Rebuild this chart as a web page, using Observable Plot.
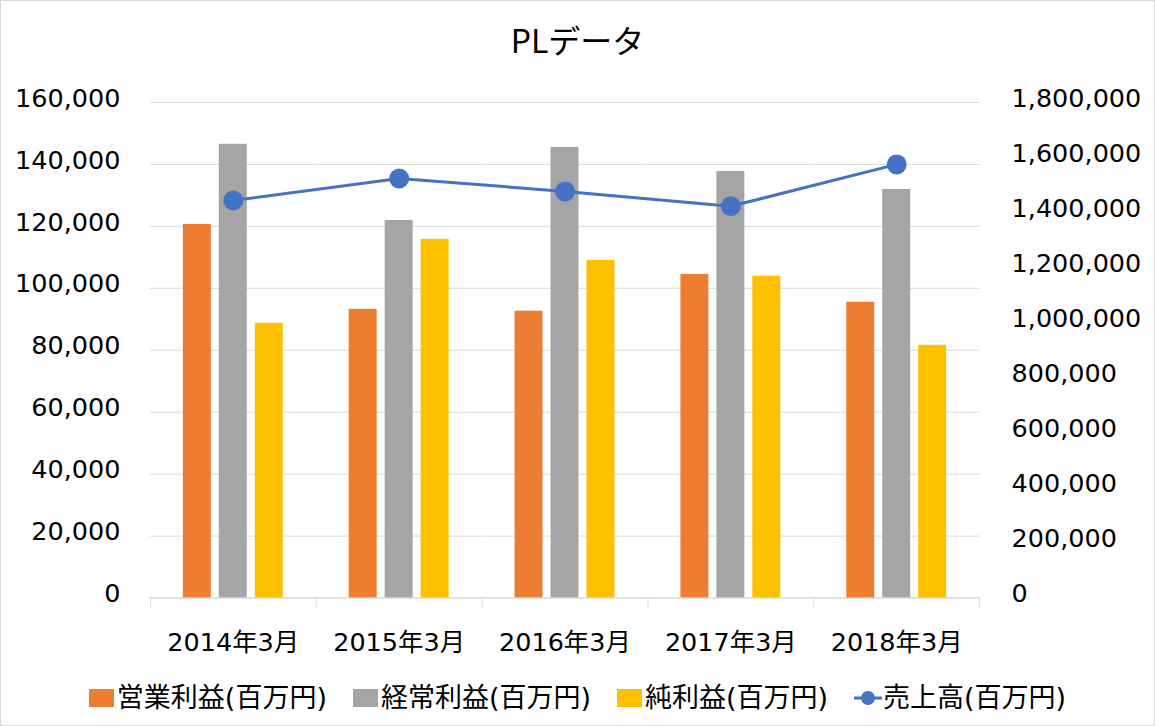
<!DOCTYPE html>
<html>
<head>
<meta charset="utf-8">
<script src="https://cdn.jsdelivr.net/npm/d3@7"></script>
<script src="https://cdn.jsdelivr.net/npm/@observablehq/plot@0.6"></script>
<style>
  body { margin: 0; background: #fff; }
  #chart { position: relative; width: 1155px; height: 726px; box-sizing: border-box; border: 1px solid #d9d9d9; background: #fff; overflow: hidden;
           font-family: "DejaVu Sans", "Noto Sans CJK JP", sans-serif; color: #000; }
  #title { position: absolute; left: -1px; width: 1155px; top: 16px; text-align: center; font-family: "Noto Sans CJK JP", sans-serif; font-size: 32px; line-height: 44px; }
  .layer { position: absolute; left: -1px; top: 59px; }
  #legend { position: absolute; left: -1px; width: 1155px; top: 678px; height: 38px; display: flex; justify-content: center; align-items: center; gap: 26px; font-size: 27px; line-height: 38px; }
  .item { display: flex; align-items: center; white-space: nowrap; }
  .sw { display: inline-block; width: 25px; height: 18px; margin-right: 3px; }
</style>
</head>
<body>
<div id="chart">
  <div id="title"></div>
  <div id="layer1" class="layer"></div>
  <div id="layer2" class="layer"></div>
  <div id="legend"></div>
</div>
<script>
// ---- data ----
const titleText = "PLデータ";
const years = ["2014年3月", "2015年3月", "2016年3月", "2017年3月", "2018年3月"];
const seriesNames = ["営業利益(百万円)", "経常利益(百万円)", "純利益(百万円)"];
const lineName = "売上高(百万円)";
const operatingProfit = [120600, 93200, 92600, 104500, 95500];
const ordinaryProfit  = [146500, 121900, 145500, 137700, 131900];
const netProfit       = [88700, 115800, 109000, 103900, 81600];
const sales           = [1444000, 1524000, 1477000, 1423000, 1575000];
const leftTicks  = [0, 20000, 40000, 60000, 80000, 100000, 120000, 140000, 160000];
const rightTicks = [0, 200000, 400000, 600000, 800000, 1000000, 1200000, 1400000, 1600000, 1800000];
const barColors = ["#ED7D31", "#A5A5A5", "#FFC000"];
const lineColor = "#4472C4";

// ---- tables built from the arrays ----
const seriesValues = [operatingProfit, ordinaryProfit, netProfit];
const barData = years.flatMap((yr, i) => seriesNames.map((s, j) => ({year: yr, series: s, value: seriesValues[j][i]})));
const salesData = years.map((yr, i) => ({year: yr, value: sales[i]}));
// point domain: category boundaries interleaved with category centres
const edgeKeys = d3.range(years.length + 1).map(i => "edge" + i);
const xDomain = [];
years.forEach((yr, i) => { xDomain.push(edgeKeys[i], yr); });
xDomain.push(edgeKeys[years.length]);

const fontStack = '"DejaVu Sans", "Noto Sans CJK JP", sans-serif';
const W = 1155, H = 605;
const margins = {marginTop: 42, marginRight: 174, marginBottom: 67, marginLeft: 148};
const fmt = d3.format(",");

document.getElementById("title").textContent = titleText;

const p1 = Plot.plot({
  width: W, height: H, ...margins,
  style: {fontFamily: fontStack, color: "#000", background: "transparent", overflow: "visible"},
  fx: {domain: years, paddingInner: 0, paddingOuter: 0, label: null},
  x: {domain: seriesNames, paddingInner: 0.216, paddingOuter: 0.86, axis: null},
  y: {domain: [0, 160000], axis: null},
  color: {domain: seriesNames, range: barColors},
  marks: [
    Plot.gridY(leftTicks, {stroke: "#d9d9d9", strokeOpacity: 1, strokeWidth: 1}),
    Plot.barY(barData, {fx: "year", x: "series", y: "value", fill: "series"}),
    Plot.ruleY([0], {stroke: "#d9d9d9", strokeWidth: 1}),
    Plot.axisY({ticks: leftTicks, tickFormat: fmt, tickSize: 0, tickPadding: 30, fontSize: 25.5, dy: -4, label: null, fill: "#000"}),
    Plot.axisFx({anchor: "bottom", tickSize: 0, tickPadding: 35, fontSize: 25.5, label: null, fill: "#000"})
  ]
});
document.getElementById("layer1").appendChild(p1);

const p2 = Plot.plot({
  width: W, height: H, ...margins,
  style: {fontFamily: fontStack, color: "#000", background: "transparent", overflow: "visible"},
  x: {type: "point", domain: xDomain, padding: 0, axis: null},
  y: {domain: [0, 1800000], axis: null},
  marks: [
    Plot.axisX({anchor: "bottom", ticks: edgeKeys, tickSize: 10, tickFormat: () => "", stroke: "#d9d9d9", label: null}),
    Plot.line(salesData, {x: "year", y: "value", stroke: lineColor, strokeWidth: 3}),
    Plot.dot(salesData, {x: "year", y: "value", r: 10, fill: lineColor}),
    Plot.axisY({anchor: "right", ticks: rightTicks, tickFormat: fmt, tickSize: 0, tickPadding: 31, fontSize: 25.5, dy: -4, label: null, fill: "#000"})
  ]
});
document.getElementById("layer2").appendChild(p2);

// ---- legend ----
const legend = document.getElementById("legend");
seriesNames.forEach((s, j) => {
  const item = document.createElement("span");
  item.className = "item";
  const sw = document.createElement("span");
  sw.className = "sw";
  sw.style.background = barColors[j];
  item.appendChild(sw);
  item.appendChild(document.createTextNode(s));
  legend.appendChild(item);
});
{
  const item = document.createElement("span");
  item.className = "item";
  const ns = "http://www.w3.org/2000/svg";
  const svg = document.createElementNS(ns, "svg");
  svg.setAttribute("width", 28); svg.setAttribute("height", 18);
  svg.style.marginRight = "1px";
  const ln = document.createElementNS(ns, "line");
  ln.setAttribute("x1", 0); ln.setAttribute("x2", 28); ln.setAttribute("y1", 9); ln.setAttribute("y2", 9);
  ln.setAttribute("stroke", lineColor); ln.setAttribute("stroke-width", 3);
  const c = document.createElementNS(ns, "circle");
  c.setAttribute("cx", 14); c.setAttribute("cy", 9); c.setAttribute("r", 7); c.setAttribute("fill", lineColor);
  svg.appendChild(ln); svg.appendChild(c);
  item.appendChild(svg);
  item.appendChild(document.createTextNode(lineName));
  legend.appendChild(item);
}
</script>
</body>
</html>
